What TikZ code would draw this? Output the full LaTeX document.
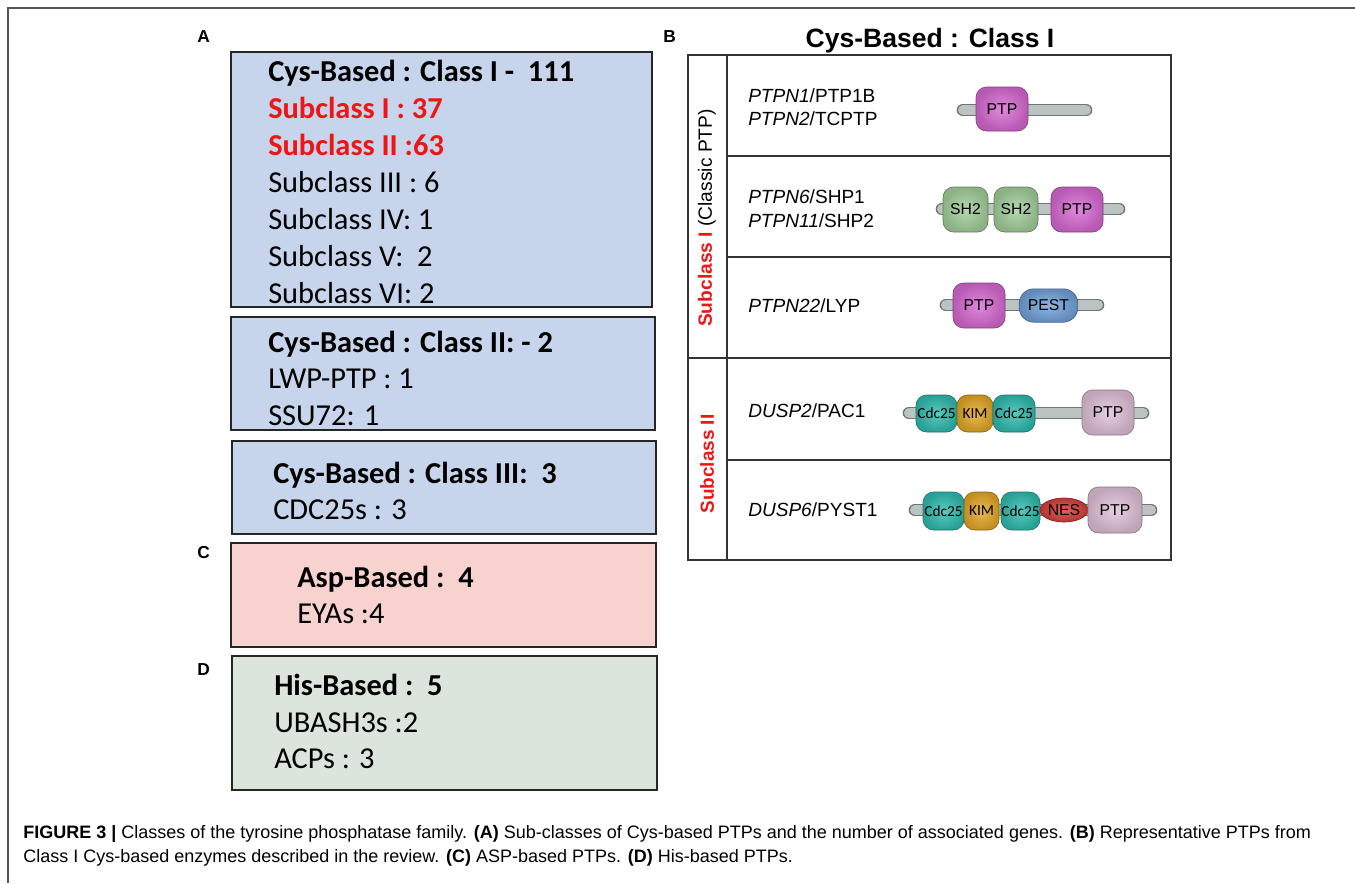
\documentclass[tikz,border=0pt]{standalone}
\usepackage{fontspec}
\setmainfont{Liberation Sans}
\newfontfamily\calfont{Carlito}
\newfontfamily\capfont{Liberation Sans}
\usepackage{tikz}
\usetikzlibrary{shapes.geometric}

\definecolor{cysblue}{HTML}{C6D5EC}
\definecolor{asppink}{HTML}{F8D2CE}
\definecolor{hisgreen}{HTML}{DCE5DB}
\definecolor{ptpmag}{HTML}{D96AD4}
\definecolor{ptplight}{HTML}{E2C2DA}
\definecolor{shgreen}{HTML}{A3D09C}
\definecolor{pestblue}{HTML}{72A2DC}
\definecolor{cdcteal}{HTML}{30BDB0}
\definecolor{kimorange}{HTML}{E4A826}
\definecolor{nesred}{HTML}{D83C38}
\definecolor{bbgray}{HTML}{BCC3C3}
\definecolor{subred}{HTML}{F01515}
\definecolor{framegray}{HTML}{555555}

\tikzset{
  classbox/.style={draw=black!85, line width=1.5pt},
  grid/.style={draw=black!80, line width=0.9pt},
  boxline/.style={anchor=base west, inner sep=0pt, font=\calfont\fontsize{22.8}{26}\selectfont},
  boxhead/.style={anchor=base west, inner sep=0pt, font=\calfont\bfseries\fontsize{22.8}{26}\selectfont},
  panel/.style={anchor=base west, inner sep=0pt, font=\bfseries\fontsize{13}{15}\selectfont},
  gene/.style={anchor=base west, inner sep=0pt, font=\fontsize{14.3}{16}\selectfont},
  backbone/.style={draw=bbgray, line width=7.5pt, line cap=round,
    preaction={draw=bbgray!60!black, line width=9.5pt, line cap=round}},
  domain/.style={rounded corners=8pt, draw=#1!60!black, line width=0.5pt,
    inner color=#1!80!white, outer color=#1!85!black,
    inner sep=0pt, font=\fontsize{11.8}{13}\selectfont},
  cdcdom/.style={domain=#1, font=\calfont\fontsize{11.5}{13}\selectfont},
}

\begin{document}
\begin{tikzpicture}[x=0.75pt,y=-0.75pt]
\useasboundingbox (0,0) rectangle (1355,883);

% outer frame
\draw[framegray, line width=1.1pt] (8,883) -- (8,8) -- (1355,8);

% panel letters
\node[panel] (lblA) at (197,42) {A};
\node[panel] (lblB) at (663,42) {B};
\node[panel] (lblC) at (197,558) {C};
\node[panel] (lblD) at (197,675) {D};

% A: class boxes
\draw[classbox, fill=cysblue] (231,52) rectangle (652,307);
\draw[classbox, fill=cysblue] (231,317) rectangle (655,430);
\draw[classbox, fill=cysblue] (232,441) rectangle (656,534);
\draw[classbox, fill=asppink] (231,543) rectangle (656,647);
\draw[classbox, fill=hisgreen] (232,656) rectangle (657,790);

\node[boxhead] (cys1) at (268,81) {Cys-Based : Class I -\ \ 111};
\node[boxhead, text=subred] (sub1n) at (268,118) {Subclass I : 37};
\node[boxhead, text=subred] (sub2n) at (268,155) {Subclass II :63};
\node[boxline] (sub3n) at (268,192) {Subclass III : 6};
\node[boxline] (sub4n) at (268,229) {Subclass IV: 1};
\node[boxline] (sub5n) at (268,266) {Subclass V:\ \ 2};
\node[boxline] (sub6n) at (268,303) {Subclass VI: 2};

\node[boxhead] (cys2) at (268,352) {Cys-Based : Class II: - 2};
\node[boxline] (lwp) at (268,388) {LWP-PTP : 1};
\node[boxline] (ssu) at (268,425) {SSU72: 1};

\node[boxhead] (cys3) at (273,483) {Cys-Based : Class III:\ \ 3};
\node[boxline] (cdc) at (273,519) {CDC25s : 3};

\node[boxhead] (asp) at (297,587) {Asp-Based :\ \ 4};
\node[boxline] (eya) at (297,623) {EYAs :4};

\node[boxhead] (his) at (274,695) {His-Based :\ \ 5};
\node[boxline] (ubash) at (274,732) {UBASH3s :2};
\node[boxline] (acp) at (274,768) {ACPs : 3};

% B: table
\node[font=\bfseries\fontsize{19.9}{22}\selectfont, anchor=base] (titleB) at (930,47) {Cys-Based : Class I};
\draw[grid] (688,55) rectangle (1171,560);
\draw[grid] (727,55) -- (727,560);
\draw[grid] (727,156) -- (1171,156);
\draw[grid] (727,257) -- (1171,257);
\draw[grid] (688,358) -- (1171,358);
\draw[grid] (727,460) -- (1171,460);

\node[rotate=90, inner sep=0pt, font=\fontsize{14.4}{16}\selectfont] (colI) at (707,218)
  {\textcolor{subred}{\bfseries Subclass I} (Classic PTP)};
\node[rotate=90, inner sep=0pt, font=\bfseries\fontsize{14.2}{16}\selectfont, text=subred] (colII) at (707,464)
  {Subclass II};

\node[gene] (g1a) at (748,102) {\textit{PTPN1}/PTP1B};
\node[gene] (g1b) at (748,125) {\textit{PTPN2}/TCPTP};
\node[gene] (g2a) at (748,203) {\textit{PTPN6}/SHP1};
\node[gene] (g2b) at (748,227) {\textit{PTPN11}/SHP2};
\node[gene] (g3) at (748,312) {\textit{PTPN22}/LYP};
\node[gene] (g4) at (748,417) {\textit{DUSP2}/PAC1};
\node[gene] (g5) at (748,516) {\textit{DUSP6}/PYST1};

% backbones
\coordinate (r1s) at (963,110); \coordinate (r1e) at (1086,110);
\coordinate (r2s) at (942,209); \coordinate (r2e) at (1119,209);
\coordinate (r3s) at (946,305); \coordinate (r3e) at (1098,305);
\coordinate (r4s) at (909,413); \coordinate (r4e) at (1143,413);
\coordinate (r5s) at (915,510); \coordinate (r5e) at (1151,510);
\draw[backbone] (r1s) -- (r1e);
\draw[backbone] (r2s) -- (r2e);
\draw[backbone] (r3s) -- (r3e);
\draw[backbone] (r4s) -- (r4e);
\draw[backbone] (r5s) -- (r5e);

% domains
\node[domain=ptpmag, minimum width=39pt, minimum height=33pt] (r1ptp) at (1002,109) {PTP};

\node[domain=shgreen, minimum width=33.75pt, minimum height=33.75pt] (r2sha) at (965.5,209.5) {SH2};
\node[domain=shgreen, minimum width=33pt, minimum height=33.75pt] (r2shb) at (1016,209.5) {SH2};
\node[domain=ptpmag, minimum width=39pt, minimum height=33.75pt] (r2ptp) at (1077,209.5) {PTP};

\node[domain=ptpmag, minimum width=39pt, minimum height=33.75pt] (r3ptp) at (979,305.5) {PTP};
\node[domain=pestblue, rounded corners=11pt, minimum width=44pt, minimum height=25pt] (r3pest) at (1048.5,305.5) {PEST};

\node[cdcdom=cdcteal, minimum width=30.75pt, minimum height=27.75pt] (r4cdca) at (936.5,413.5) {Cdc25};
\node[cdcdom=kimorange, minimum width=27pt, minimum height=27.75pt] (r4kim) at (975,413.5) {KIM};
\node[cdcdom=cdcteal, minimum width=31.5pt, minimum height=27.75pt] (r4cdcb) at (1014,413.5) {Cdc25};
\node[domain=ptplight, minimum width=39pt, minimum height=33.75pt] (r4ptp) at (1108,412.5) {PTP};

\node[cdcdom=cdcteal, minimum width=30.75pt, minimum height=28.5pt] (r5cdca) at (943.5,511) {Cdc25};
\node[cdcdom=kimorange, minimum width=26.25pt, minimum height=28.5pt] (r5kim) at (981.5,511) {KIM};
\node[cdcdom=cdcteal, minimum width=29.25pt, minimum height=28.5pt] (r5cdcb) at (1020.5,511) {Cdc25};
\node[domain=nesred, ellipse, minimum width=36pt, minimum height=18pt] (r5nes) at (1064,510) {NES};
\node[domain=ptplight, minimum width=40.5pt, minimum height=34.5pt] (r5ptp) at (1115,510) {PTP};

% caption
\node[anchor=base west, inner sep=0pt, font=\capfont\fontsize{13.5}{16}\selectfont] (cap1) at (23,838)
  {\textbf{FIGURE 3 |} Classes of the tyrosine phosphatase family. \textbf{(A)} Sub-classes of Cys-based PTPs and the number of associated genes. \textbf{(B)} Representative PTPs from};
\node[anchor=base west, inner sep=0pt, font=\capfont\fontsize{13.5}{16}\selectfont] (cap2) at (23,862)
  {Class I Cys-based enzymes described in the review. \textbf{(C)} ASP-based PTPs. \textbf{(D)} His-based PTPs.};
\end{tikzpicture}
\end{document}
